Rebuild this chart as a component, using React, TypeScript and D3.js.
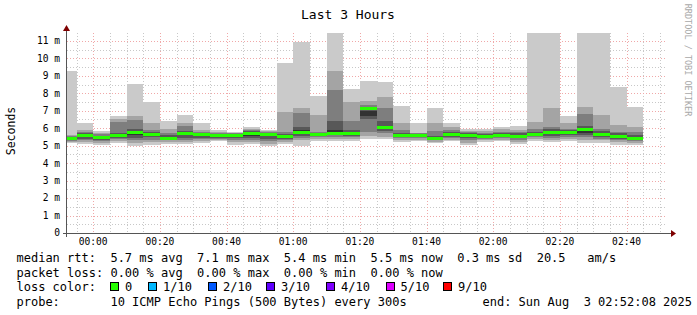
import React from 'react';
import * as d3 from 'd3';

const W = 697;
const H = 315;

// bar end times (5-minute steps, smokeping step 300s)
const barEnds = [
  '23:55', '00:00', '00:05', '00:10', '00:15', '00:20', '00:25', '00:30', '00:35', '00:40',
  '00:45', '00:50', '00:55', '01:00', '01:05', '01:10', '01:15', '01:20', '01:25', '01:30',
  '01:35', '01:40', '01:45', '01:50', '01:55', '02:00', '02:05', '02:10', '02:15', '02:20',
  '02:25', '02:30', '02:35', '02:40', '02:45',
];

// sorted ping values (ms), rank 1 (fastest) .. rank 10 (slowest)
const ping01 = [5.14, 5.08, 5.05, 5.18, 4.99, 5.05, 5.08, 5.08, 5.18, 5.27, 5.05, 5.08, 4.99, 5.08, 4.99, 5.27, 5.27, 5.27, 5.38, 5.37, 5.22, 5.27, 5.14, 5.27, 5.03, 5.22, 5.27, 5.08, 5.27, 5.22, 5.27, 5.18, 5.18, 5.05, 5.03];
const ping02 = [5.20, 5.20, 5.15, 5.28, 5.15, 5.20, 5.20, 5.20, 5.28, 5.33, 5.20, 5.20, 5.10, 5.20, 5.30, 5.38, 5.40, 5.38, 5.57, 5.50, 5.35, 5.35, 5.22, 5.35, 5.15, 5.30, 5.35, 5.20, 5.38, 5.32, 5.38, 5.35, 5.30, 5.20, 5.15];
const ping03 = [5.28, 5.30, 5.25, 5.38, 5.30, 5.35, 5.30, 5.30, 5.38, 5.38, 5.35, 5.30, 5.25, 5.30, 5.45, 5.48, 5.50, 5.48, 5.79, 5.75, 5.45, 5.42, 5.30, 5.42, 5.30, 5.38, 5.42, 5.30, 5.48, 5.45, 5.50, 5.50, 5.40, 5.30, 5.25];
const ping04 = [5.33, 5.40, 5.35, 5.45, 5.45, 5.48, 5.37, 5.45, 5.45, 5.45, 5.45, 5.42, 5.40, 5.38, 5.55, 5.55, 5.60, 5.58, 6.50, 5.85, 5.52, 5.48, 5.36, 5.50, 5.45, 5.45, 5.48, 5.42, 5.55, 5.55, 5.60, 5.60, 5.50, 5.40, 5.33];
const ping05 = [5.38, 5.50, 5.43, 5.52, 5.60, 5.58, 5.40, 5.60, 5.55, 5.52, 5.52, 5.55, 5.55, 5.45, 5.65, 5.62, 5.65, 5.65, 6.70, 5.95, 5.57, 5.53, 5.38, 5.58, 5.53, 5.50, 5.53, 5.50, 5.60, 5.68, 5.68, 5.75, 5.58, 5.47, 5.38];
const ping06 = [5.45, 5.60, 5.50, 5.60, 5.85, 5.70, 5.47, 5.75, 5.70, 5.60, 5.60, 5.78, 5.70, 5.55, 5.90, 5.70, 5.90, 5.75, 7.00, 6.10, 5.63, 5.60, 5.45, 5.68, 5.62, 5.58, 5.60, 5.58, 5.68, 5.82, 5.80, 6.00, 5.72, 5.58, 5.48];
const ping07 = [5.50, 5.70, 5.58, 5.75, 5.95, 5.80, 5.60, 5.85, 5.75, 5.65, 5.65, 5.85, 5.75, 5.65, 6.04, 5.75, 6.42, 5.90, 7.20, 6.42, 5.75, 5.65, 5.55, 5.80, 5.70, 5.65, 5.70, 5.70, 5.79, 5.95, 5.90, 6.13, 5.85, 5.70, 5.62];
const ping08 = [5.55, 5.80, 5.65, 6.36, 6.48, 5.90, 5.70, 6.10, 5.80, 5.72, 5.70, 5.90, 5.80, 5.80, 6.86, 5.80, 8.19, 6.42, 7.35, 7.18, 5.90, 5.70, 5.85, 5.90, 5.78, 5.72, 5.80, 5.80, 5.95, 6.08, 5.98, 6.84, 5.94, 5.79, 5.80];
const ping09 = [5.60, 5.88, 5.72, 6.55, 6.67, 6.32, 5.94, 6.30, 5.90, 5.80, 5.75, 5.95, 5.85, 6.90, 7.18, 6.76, 9.28, 7.51, 7.56, 7.76, 6.32, 5.75, 6.32, 6.08, 5.85, 5.85, 5.95, 5.90, 6.36, 7.18, 6.27, 7.24, 6.74, 6.21, 6.08];
const ping10 = [9.28, 6.27, 5.85, 6.71, 8.52, 7.51, 6.42, 6.76, 6.32, 5.90, 5.79, 6.08, 5.90, 9.76, 10.96, 7.85, 12.5, 8.23, 8.68, 8.65, 7.28, 6.27, 7.13, 6.32, 5.94, 5.94, 6.08, 6.13, 12.5, 12.5, 6.67, 12.5, 12.5, 8.33, 7.22];

// median rtt per bar (ms)
const medianRtt = [5.41, 5.57, 5.47, 5.56, 5.75, 5.64, 5.43, 5.70, 5.64, 5.56, 5.56, 5.71, 5.64, 5.50, 5.77, 5.66, 5.70, 5.70, 7.13, 6.02, 5.60, 5.56, 5.41, 5.62, 5.58, 5.54, 5.56, 5.54, 5.64, 5.75, 5.75, 5.90, 5.66, 5.52, 5.43];

const yTicks = [0, 1, 2, 3, 4, 5, 6, 7, 8, 9, 10, 11];

const lossLabels = ['0', '1/10', '2/10', '3/10', '4/10', '5/10', '9/10'];
const lossColors = ['#26ff00', '#00b8ff', '#0059ff', '#5e00ff', '#7e00ff', '#dd00ff', '#ff0000'];

const legendLines = [
  'median rtt:  5.7 ms avg  7.1 ms max  5.4 ms min  5.5 ms now  0.3 ms sd  20.5   am/s',
  'packet loss: 0.00 % avg  0.00 % max  0.00 % min  0.00 % now',
];
const probeText = 'probe:       10 ICMP Echo Pings (500 Bytes) every 300s';
const endText = 'end: Sun Aug  3 02:52:08 2025';

const MONO = '"DejaVu Sans Mono", "Liberation Mono", monospace';
const nb = (s: string) => s.replace(/ /g, '\u00a0');

function toDate(hm: string): Date {
  const [h, m] = hm.split(':').map(Number);
  const day = h >= 12 ? 2 : 3;
  return new Date(Date.UTC(2025, 7, day, h, m, 0));
}

export default function App() {
  const left = 67, right = 667, top = 33, bottom = 233;
  const tStart = new Date(Date.UTC(2025, 7, 2, 23, 52, 8));
  const tEnd = new Date(Date.UTC(2025, 7, 3, 2, 52, 8));
  const x = d3.scaleUtc().domain([tStart, tEnd]).range([left, right]);
  const y = d3.scaleLinear().domain([0, 11.45]).range([bottom, top]);

  const ranks = [ping01, ping02, ping03, ping04, ping05, ping06, ping07, ping08, ping09, ping10];
  const greys = [0, 1, 2, 3, 4].map(i => {
    const g = Math.floor((190 / 5) * (5 - (i + 1))) + 50;
    return d3.rgb(g, g, g).formatHex();
  });

  const minorX = d3.utcMinute.every(5)!.range(tStart, tEnd);
  const majorX = d3.utcMinute.every(20)!.range(tStart, tEnd);
  const minorY = d3.range(0.5, 11.45, 1);
  const fmt = d3.utcFormat('%H:%M');

  const bars = barEnds.map((e, i) => {
    const end = toDate(e);
    const st = new Date(Math.max(+tStart, +end - 300000));
    return { x0: x(st), x1: x(end), i };
  });

  const minorColor = '#c8c8c8';
  const majorColor = '#f0a8a8';

  return (
    <svg width={W} height={H} style={{ display: 'block', position: 'absolute', left: 0, top: 0, background: '#fff' }}>
      <defs>
        <clipPath id="plot">
          <rect x={left} y={top} width={right - left} height={bottom - top} />
        </clipPath>
      </defs>
      <rect x={0} y={0} width={W} height={H} fill="#ffffff" />

      {/* grid */}
      <g shapeRendering="crispEdges" strokeWidth={1} strokeDasharray="1,2">
        {minorY.map(v => (
          <line key={'my' + v} x1={left} x2={right} y1={Math.round(y(v)) + 0.5} y2={Math.round(y(v)) + 0.5} stroke={minorColor} />
        ))}
        {minorX.map(t => (
          <line key={'mx' + +t} x1={Math.round(x(t)) + 0.5} x2={Math.round(x(t)) + 0.5} y1={top} y2={bottom} stroke={minorColor} />
        ))}
        {yTicks.filter(v => v > 0).map(v => (
          <line key={'My' + v} x1={left} x2={right} y1={Math.round(y(v)) + 0.5} y2={Math.round(y(v)) + 0.5} stroke={majorColor} />
        ))}
        {majorX.map(t => (
          <line key={'Mx' + +t} x1={Math.round(x(t)) + 0.5} x2={Math.round(x(t)) + 0.5} y1={top} y2={bottom} stroke={majorColor} />
        ))}
      </g>

      {/* smoke */}
      <g clipPath="url(#plot)" shapeRendering="crispEdges">
        {[0, 1, 2, 3, 4].map(layer =>
          bars.map(b => {
            const lo = ranks[layer][b.i];
            const hi = ranks[9 - layer][b.i];
            const y0 = y(hi), y1 = y(lo);
            return (
              <rect key={'s' + layer + '-' + b.i} x={b.x0} y={y0} width={b.x1 - b.x0} height={Math.max(0, y1 - y0)} fill={greys[layer]} />
            );
          })
        )}
        {bars.map(b => {
          const ym = y(medianRtt[b.i]);
          return <rect key={'m' + b.i} x={b.x0} y={ym - 1.5} width={b.x1 - b.x0} height={3} fill={lossColors[0]} />;
        })}
      </g>

      {/* axes */}
      <g shapeRendering="crispEdges">
        <line x1={63} x2={671} y1={bottom + 0.5} y2={bottom + 0.5} stroke="#555" />
        <line x1={left - 0.5} x2={left - 0.5} y1={bottom + 4} y2={28} stroke="#555" />
      </g>
      <path d={`M${671},${bottom - 3} L${676},${bottom + 0.5} L${671},${bottom + 4} Z`} fill="#7f0000" />
      <path d={`M${left - 4},${31} L${left - 0.5},${25} L${left + 3},${31} Z`} fill="#7f0000" />

      {/* y labels */}
      <g fontFamily={MONO} fontSize={9.6} fill="#000" textAnchor="end">
        {yTicks.map(v => (
          <text key={'yl' + v} x={60} y={y(v) + 3.4}>{nb(v === 0 ? '0' : `${v} m`)}</text>
        ))}
      </g>
      {/* x labels */}
      <g fontFamily={MONO} fontSize={9.6} fill="#000" textAnchor="middle">
        {majorX.map(t => (
          <text key={'xl' + +t} x={x(t)} y={245}>{fmt(t)}</text>
        ))}
      </g>

      {/* title */}
      <text x={348} y={18.5} fontFamily={MONO} fontSize={13} textAnchor="middle" fill="#000">Last 3 Hours</text>
      {/* y axis title */}
      <text transform="translate(15,131) rotate(-90)" fontFamily={MONO} fontSize={11.5} textAnchor="middle" fill="#000">Seconds</text>
      {/* watermark */}
      <text transform="translate(685,60) rotate(90)" fontFamily={MONO} fontSize={8.5} textAnchor="middle" fill="#a8a8a8">RRDTOOL / TOBI OETIKER</text>

      {/* legend */}
      <g fontFamily={MONO} fontSize={12} fill="#000">
        <text x={16.5} y={262}>{nb(legendLines[0])}</text>
        <text x={16.5} y={276.5}>{nb(legendLines[1])}</text>
        <text x={16.5} y={291}>{nb('loss color:')}</text>
        {lossLabels.map((l, i) => {
          const bx = [110, 148, 208, 266, 326, 385.5, 443][i];
          return (
            <g key={'lc' + i}>
              <rect x={bx + 0.5} y={282.5} width={8} height={8} fill={lossColors[i]} stroke="#000" strokeWidth={1} shapeRendering="crispEdges" />
              <text x={bx + 15} y={291}>{l}</text>
            </g>
          );
        })}
        <text x={16.5} y={305.5}>{nb(probeText)}</text>
        <text x={692} y={305.5} textAnchor="end">{nb(endText)}</text>
      </g>
    </svg>
  );
}
